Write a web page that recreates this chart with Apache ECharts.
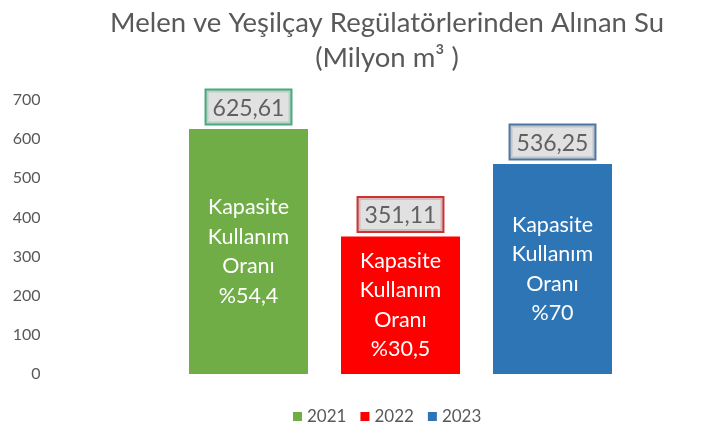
<!DOCTYPE html>
<html><head><meta charset="utf-8">
<script src="https://cdn.jsdelivr.net/npm/echarts@6/dist/echarts.min.js"></script>
<style>html,body{margin:0;padding:0;background:#fff}#c{width:702px;height:441px}</style>
</head><body><div id="c"></div>
<script>
const years = ['2021', '2022', '2023'];
const values = [625.61, 351.11, 536.25];
const valueLabels = ['625,61', '351,11', '536,25'];
const rates = ['%54,4', '%30,5', '%70'];
const colors = ['#70AD47', '#FF0000', '#2E75B6'];
const labelBorders = ['#17965A', '#C00000', '#245488'];
const yTicks = [0, 100, 200, 300, 400, 500, 600, 700];

const FONT = 'Lato';
const chart = echarts.init(document.getElementById('c'));

const barSeries = years.map((y, i) => ({
  name: y,
  type: 'bar',
  stack: 'all',
  barWidth: 119,
  itemStyle: { color: colors[i] },
  label: {
    show: true,
    position: 'inside',
    color: '#fff',
    fontFamily: FONT,
    fontSize: 21.5,
    lineHeight: 29.5,
    formatter: () => 'Kapasite\nKullanım\nOranı\n' + rates[i]
  },
  data: years.map((_, j) => j === i ? values[i] : '-')
}));

const topSeries = {
  name: 'labels',
  type: 'scatter',
  symbolSize: 1,
  itemStyle: { color: 'rgba(0,0,0,0)' },
  silent: true,
  z: 5,
  data: values.map((v, i) => ({
    value: v,
    label: {
      show: true,
      position: 'top',
      distance: 5,
      formatter: valueLabels[i],
      fontFamily: FONT,
      fontSize: 23,
      color: '#404040',
      backgroundColor: '#D9D9D9',
      borderColor: labelBorders[i],
      borderWidth: 2,
      padding: [6, 6, 4, 6]
    }
  }))
};

chart.setOption({
  animation: false,
  title: {
    text: 'Melen ve Yeşilçay Regülatörlerinden Alınan Su\n(Milyon m³ )',
    left: 382,
    top: 1,
    textAlign: 'center',
    textStyle: { fontFamily: FONT, fontSize: 27.5, lineHeight: 35, fontWeight: 'normal', color: '#595959' }
  },
  legend: {
    data: years,
    bottom: 11,
    left: 288,
    itemWidth: 9,
    itemHeight: 9,
    itemGap: 14,
    icon: 'rect',
    textStyle: { fontFamily: FONT, fontSize: 17, color: '#595959' }
  },
  grid: { left: 172.5, right: 73.5, top: 100, bottom: 67 },
  xAxis: {
    type: 'category',
    data: years,
    axisLine: { show: false },
    axisTick: { show: false },
    axisLabel: { show: false }
  },
  yAxis: {
    type: 'value',
    min: yTicks[0],
    max: yTicks[yTicks.length - 1],
    interval: 100,
    splitLine: { show: false },
    axisLine: { show: false },
    axisTick: { show: false },
    axisLabel: { margin: 132, fontFamily: FONT, fontSize: 16, color: '#595959' }
  },
  series: [...barSeries, topSeries]
});
</script></body></html>
